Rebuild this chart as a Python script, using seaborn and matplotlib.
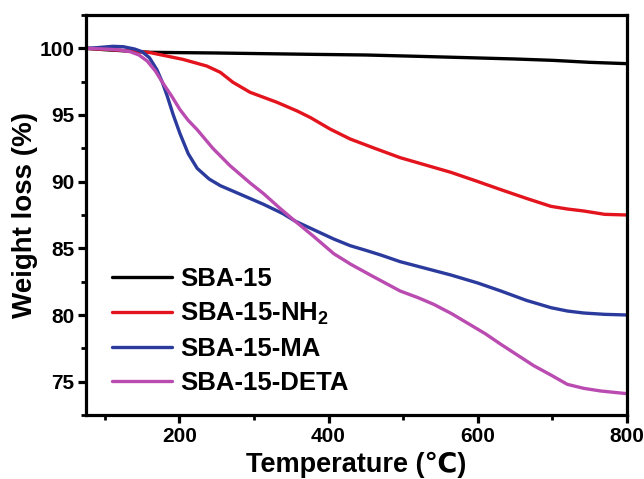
import numpy as np
import pandas as pd
import matplotlib
matplotlib.use("Agg")
import matplotlib.pyplot as plt
import seaborn as sns
from matplotlib.ticker import MultipleLocator

# Data
t_sba = [75, 100, 161, 250, 376, 450, 520, 586, 650, 700, 750, 800]
w_sba = [100.0, 99.9, 99.7, 99.65, 99.55, 99.5, 99.4, 99.3, 99.2, 99.1, 98.95, 98.85]

t_nh2 = [75, 110, 161, 205, 237, 255, 272, 295, 331, 358, 376, 402, 429, 462, 496, 530, 564, 598, 631, 665, 698, 720, 742, 770, 800]
w_nh2 = [100.0, 99.9, 99.68, 99.17, 98.67, 98.2, 97.45, 96.7, 95.95, 95.3, 94.8, 93.95, 93.2, 92.5, 91.8, 91.25, 90.7, 90.05, 89.4, 88.75, 88.15, 87.95, 87.8, 87.55, 87.5]

t_ma = [75, 90, 111, 125, 140, 150, 160, 170, 177, 184, 192, 201, 212, 224, 240, 255, 282, 313, 339, 355, 380, 407, 429, 450, 470, 496, 530, 564, 600, 631, 665, 698, 720, 742, 770, 800]
w_ma = [100.0, 100.05, 100.15, 100.12, 99.95, 99.75, 99.3, 98.4, 97.5, 96.4, 95.0, 93.6, 92.1, 91.0, 90.2, 89.7, 89.05, 88.3, 87.6, 87.05, 86.4, 85.7, 85.2, 84.85, 84.5, 84.0, 83.5, 83.0, 82.4, 81.8, 81.1, 80.55, 80.3, 80.15, 80.05, 80.0]

t_deta = [75, 100, 120, 134, 146, 157, 168, 178, 190, 201, 212, 224, 245, 268, 295, 313, 335, 355, 380, 407, 430, 456, 496, 520, 541, 565, 586, 610, 631, 653, 675, 698, 720, 742, 765, 800]
w_deta = [100.0, 99.95, 99.88, 99.75, 99.5, 99.05, 98.3, 97.4, 96.4, 95.4, 94.6, 93.9, 92.5, 91.2, 89.9, 89.1, 88.0, 87.05, 85.9, 84.6, 83.8, 83.0, 81.8, 81.3, 80.8, 80.1, 79.4, 78.6, 77.8, 77.0, 76.2, 75.5, 74.8, 74.5, 74.3, 74.1]

labels = ["SBA-15", r"SBA-15-NH$_\mathbf{2}$", "SBA-15-MA", "SBA-15-DETA"]
colors = ["#000000", "#e3141d", "#2b3b9d", "#b94bb1"]

frames = []
for lab, t, w in zip(labels, [t_sba, t_nh2, t_ma, t_deta], [w_sba, w_nh2, w_ma, w_deta]):
    frames.append(pd.DataFrame({"T": t, "W": w, "sample": lab}))
df = pd.concat(frames, ignore_index=True)

sns.set_style("ticks")
plt.rcParams['font.family'] = ['Liberation Sans', 'DejaVu Sans']
plt.rcParams['mathtext.fontset'] = 'custom'
plt.rcParams['mathtext.rm'] = 'Liberation Sans:bold'
plt.rcParams['mathtext.bf'] = 'Liberation Sans:bold'
plt.rcParams['mathtext.default'] = 'bf'
for k in ['text.color', 'axes.labelcolor', 'xtick.color', 'ytick.color', 'axes.edgecolor']:
    plt.rcParams[k] = 'black'

fig = plt.figure(figsize=(6.44, 4.79), dpi=100)
ax = fig.add_axes([0.1335, 0.1336, 0.8401, 0.8351])

sns.lineplot(data=df, x="T", y="W", hue="sample", hue_order=labels,
             palette=colors, linewidth=2.4, ax=ax, sort=False, estimator=None)
for ln in ax.get_lines():
    ln.set_solid_joinstyle('round')
    ln.set_solid_capstyle('round')

ax.set_xlim(75, 800)
ax.set_ylim(72.5, 102.5)
ax.xaxis.set_major_locator(MultipleLocator(200))
ax.xaxis.set_minor_locator(MultipleLocator(100))
ax.yaxis.set_major_locator(MultipleLocator(5))
ax.yaxis.set_minor_locator(MultipleLocator(2.5))

for s in ax.spines.values():
    s.set_linewidth(2.3)
    s.set_visible(True)
    s.set_color('black')
ax.tick_params(which='major', direction='out', length=5.5, width=2.3, labelsize=15,
               top=False, right=False, pad=3, colors='black')
ax.tick_params(which='minor', direction='out', length=3.5, width=2, top=False, right=False,
               colors='black')
for lbl in ax.get_xticklabels() + ax.get_yticklabels():
    lbl.set_fontweight('bold')

ax.set_xlabel("Temperature (℃)", fontsize=19.5, fontweight='bold', labelpad=4)
ax.set_ylabel("Weight loss (%)", fontsize=20, fontweight='bold', labelpad=0.5)

leg = ax.legend(loc='lower left', bbox_to_anchor=(0.005, -0.008), frameon=False,
                prop={'weight': 'bold', 'size': 18.5}, handlelength=2.35,
                handletextpad=0.3, labelspacing=0.39)
for h in leg.get_lines():
    h.set_linewidth(2.4)

fig.savefig("out.png", dpi=100)
